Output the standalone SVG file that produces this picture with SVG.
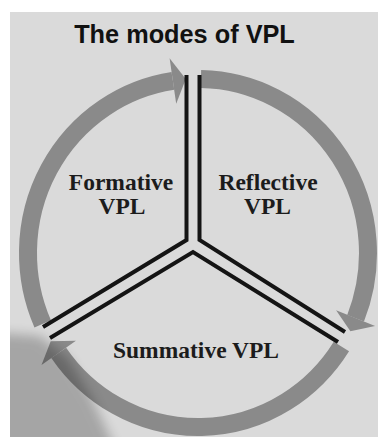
<svg xmlns="http://www.w3.org/2000/svg" width="378" height="437" viewBox="0 0 378 437">
  <defs>
    <style>
      .arc { fill: none; stroke: #8a8a8a; stroke-width: 18; stroke-linecap: butt; }
      .head { fill: #8a8a8a; }
      .div { fill: none; stroke: #141414; stroke-width: 4; stroke-linejoin: miter; stroke-linecap: butt; }
      .lbl { font-family: "Liberation Serif", "Times New Roman", serif; font-weight: bold; font-size: 23.5px; fill: #1c1c1c; text-anchor: middle; }
      .title { font-family: "Liberation Sans", Arial, sans-serif; font-weight: bold; font-size: 25.3px; fill: #111; text-anchor: middle; }
    </style>
    <filter id="soft" filterUnits="userSpaceOnUse" x="-40" y="290" width="200" height="180">
      <feGaussianBlur stdDeviation="6"/>
    </filter>
    <clipPath id="photo"><rect x="10" y="12" width="368" height="425"/></clipPath>
  </defs>

  <!-- photo background -->
  <rect x="0" y="0" width="378" height="437" fill="#ffffff"/>
  <rect x="10" y="12" width="368" height="425" fill="#dadada"/>

  <!-- title -->
  <g id="title">
    <text class="title" x="184.5" y="43">The modes of VPL</text>
  </g>

  <!-- circular arrows -->
  <g id="connectors">
    <path id="arc-reflective-to-summative" class="arc" d="M200.97,79.03 A170,174 0 0 1 355.6,318.2"/>
    <polygon class="head" points="375.1,326.1 336.1,310.3 350.4,331.2"/>
    <path id="arc-summative-to-formative" class="arc" d="M341.4,346.5 A170,174 0 0 1 58.7,352.8"/>
    <polygon class="head" points="41.5,364.9 75.9,340.7 50.7,341.3"/>
    <path id="arc-formative-to-reflective" class="arc" d="M42.7,323.8 A170,174 0 0 1 172.9,80.9"/>
    <polygon class="head" points="169.6,58.2 176.2,103.7 185.8,79"/>
  </g>

  <!-- double-line dividers -->
  <g id="dividers">
    <polyline class="div" points="186.5,75 186.5,240 43,327"/>
    <polyline class="div" points="199.5,75 199.5,240 345,332"/>
    <polyline class="div" points="50,338 193,252 338,342"/>
  </g>

  <g id="node-formative">
    <text class="lbl" x="121" y="190">Formative</text>
    <text class="lbl" x="122" y="214">VPL</text>
  </g>
  <g id="node-reflective">
    <text class="lbl" x="268" y="190">Reflective</text>
    <text class="lbl" x="267.5" y="214">VPL</text>
  </g>
  <g id="node-summative">
    <text class="lbl" x="196" y="358">Summative VPL</text>
  </g>

  <!-- shadow in the photo -->
  <g clip-path="url(#photo)">
    <polygon points="-10,332 40,336 68,358 92,398 116,450 -10,450" fill="#000" opacity="0.24" filter="url(#soft)"/>
  </g>
</svg>
